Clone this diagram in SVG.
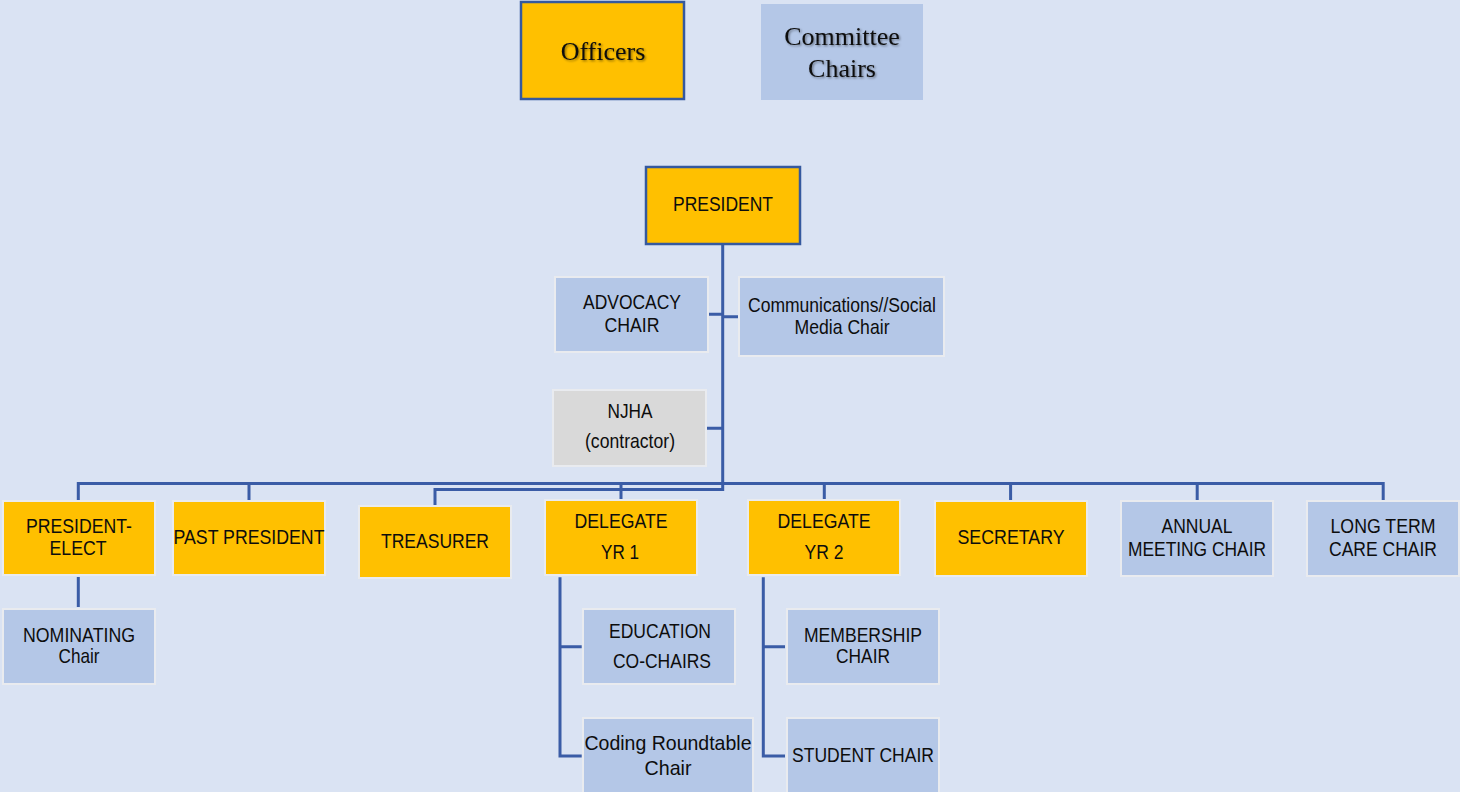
<svg xmlns="http://www.w3.org/2000/svg" width="1460" height="792" viewBox="0 0 1460 792">
<defs>
<filter id="sh" x="-10%" y="-20%" width="130%" height="150%">
<feDropShadow dx="1.2" dy="1.2" stdDeviation="0.8" flood-color="#000" flood-opacity="0.45"/>
</filter>
<style>
.bg{fill:#dae3f3}
.or{fill:#ffc000;stroke:#e9ebef;stroke-width:2}
.bl{fill:#b4c7e7;stroke:#e9ebef;stroke-width:2}
.gr{fill:#d9d9d9;stroke:#e9ebef;stroke-width:2}
.dk{stroke:#35599e;stroke-width:2.5}
.t{font-family:"Liberation Sans",Arial,sans-serif;font-size:21px;fill:#0d0d0d;text-anchor:middle}
.s{font-family:"Liberation Serif","Times New Roman",serif;font-size:26px;fill:#0d0d0d;text-anchor:middle;filter:url(#sh)}
.c{fill:none;stroke:#3a5ca6;stroke-width:3}
</style>
</defs>
<rect class="bg" x="0" y="0" width="1460" height="792"/>

<g id="connectors">
<path class="c" d="M722.7 244 V489.5 H435 V506"/>
<path class="c" d="M709 314.3 H722.7 M722.7 316.7 H738.5 M707 428.3 H722.7"/>
<path class="c" d="M78.3 500 V483.5 H1383.2 V500"/>
<path class="c" d="M249 483.5 V500 M621 483.5 V500 M824.3 483.5 V500 M1010.6 483.5 V500 M1197.2 483.5 V500"/>
<path class="c" d="M78.3 577 V607"/>
<path class="c" d="M581.7 646.7 H560 V577.3 M560 646.7 V756 H581.7"/>
<path class="c" d="M785 646.7 H763.3 V577.3 M763.3 646.7 V756 H785"/>
</g>

<g id="legend-officers">
<rect x="521" y="2" width="163" height="97" fill="#ffc000" class="dk"/>
<text class="s" x="603" y="60">Officers</text>
</g>
<g id="legend-committee">
<rect x="761" y="4" width="162" height="96" fill="#b4c7e7"/>
<text class="s" x="842" y="45">Committee</text>
<text class="s" x="842" y="77">Chairs</text>
</g>

<g id="president">
<rect x="646" y="167" width="154" height="77" fill="#ffc000" class="dk"/>
<text class="t" x="723" y="211" textLength="100" lengthAdjust="spacingAndGlyphs">PRESIDENT</text>
</g>
<g id="advocacy">
<rect class="bl" x="555" y="277" width="153" height="75"/>
<text class="t" x="632" y="309" textLength="98" lengthAdjust="spacingAndGlyphs">ADVOCACY</text>
<text class="t" x="632" y="332" textLength="55" lengthAdjust="spacingAndGlyphs">CHAIR</text>
</g>
<g id="communications">
<rect class="bl" x="739" y="277" width="205" height="79"/>
<text class="t" x="842" y="312" textLength="188" lengthAdjust="spacingAndGlyphs">Communications//Social</text>
<text class="t" x="842" y="334" textLength="95" lengthAdjust="spacingAndGlyphs">Media Chair</text>
</g>
<g id="njha">
<rect class="gr" x="553" y="390" width="153" height="76"/>
<text class="t" x="630" y="418" textLength="45" lengthAdjust="spacingAndGlyphs">NJHA</text>
<text class="t" x="630" y="448" textLength="90" lengthAdjust="spacingAndGlyphs">(contractor)</text>
</g>

<g id="president-elect">
<rect class="or" x="3" y="501" width="152" height="74"/>
<text class="t" x="79" y="533" textLength="106" lengthAdjust="spacingAndGlyphs">PRESIDENT-</text>
<text class="t" x="78" y="555" textLength="57" lengthAdjust="spacingAndGlyphs">ELECT</text>
</g>
<g id="past-president">
<rect class="or" x="173" y="501" width="152" height="74"/>
<text class="t" x="249" y="544" textLength="151" lengthAdjust="spacingAndGlyphs">PAST PRESIDENT</text>
</g>
<g id="treasurer">
<rect class="or" x="359" y="506" width="152" height="72"/>
<text class="t" x="435" y="548" textLength="108" lengthAdjust="spacingAndGlyphs">TREASURER</text>
</g>
<g id="delegate-yr1">
<rect class="or" x="545" y="500" width="152" height="75"/>
<text class="t" x="621" y="528" textLength="93" lengthAdjust="spacingAndGlyphs">DELEGATE</text>
<text class="t" x="620" y="559" textLength="38" lengthAdjust="spacingAndGlyphs">YR 1</text>
</g>
<g id="delegate-yr2">
<rect class="or" x="748" y="500" width="152" height="75"/>
<text class="t" x="824" y="528" textLength="93" lengthAdjust="spacingAndGlyphs">DELEGATE</text>
<text class="t" x="824" y="559" textLength="39" lengthAdjust="spacingAndGlyphs">YR 2</text>
</g>
<g id="secretary">
<rect class="or" x="935" y="501" width="152" height="75"/>
<text class="t" x="1011" y="544" textLength="107" lengthAdjust="spacingAndGlyphs">SECRETARY</text>
</g>
<g id="annual-meeting">
<rect class="bl" x="1121" y="501" width="152" height="75"/>
<text class="t" x="1197" y="533" textLength="71" lengthAdjust="spacingAndGlyphs">ANNUAL</text>
<text class="t" x="1197" y="556" textLength="138" lengthAdjust="spacingAndGlyphs">MEETING CHAIR</text>
</g>
<g id="long-term-care">
<rect class="bl" x="1307" y="501" width="152" height="75"/>
<text class="t" x="1383" y="533" textLength="105" lengthAdjust="spacingAndGlyphs">LONG TERM</text>
<text class="t" x="1383" y="556" textLength="108" lengthAdjust="spacingAndGlyphs">CARE CHAIR</text>
</g>

<g id="nominating">
<rect class="bl" x="3" y="609" width="152" height="75"/>
<text class="t" x="79" y="642" textLength="112" lengthAdjust="spacingAndGlyphs">NOMINATING</text>
<text class="t" x="79" y="663" textLength="41" lengthAdjust="spacingAndGlyphs">Chair</text>
</g>
<g id="education">
<rect class="bl" x="583" y="609" width="152" height="75"/>
<text class="t" x="660" y="638" textLength="102" lengthAdjust="spacingAndGlyphs">EDUCATION</text>
<text class="t" x="662" y="668" textLength="98" lengthAdjust="spacingAndGlyphs">CO-CHAIRS</text>
</g>
<g id="coding-roundtable">
<rect class="bl" x="583" y="718" width="170" height="80"/>
<text class="t" x="668" y="750" textLength="167" lengthAdjust="spacingAndGlyphs">Coding Roundtable</text>
<text class="t" x="668" y="775" textLength="47" lengthAdjust="spacingAndGlyphs">Chair</text>
</g>
<g id="membership">
<rect class="bl" x="787" y="609" width="152" height="75"/>
<text class="t" x="863" y="642" textLength="118" lengthAdjust="spacingAndGlyphs">MEMBERSHIP</text>
<text class="t" x="863" y="663" textLength="54" lengthAdjust="spacingAndGlyphs">CHAIR</text>
</g>
<g id="student">
<rect class="bl" x="787" y="718" width="152" height="80"/>
<text class="t" x="863" y="762" textLength="142" lengthAdjust="spacingAndGlyphs">STUDENT CHAIR</text>
</g>
</svg>
